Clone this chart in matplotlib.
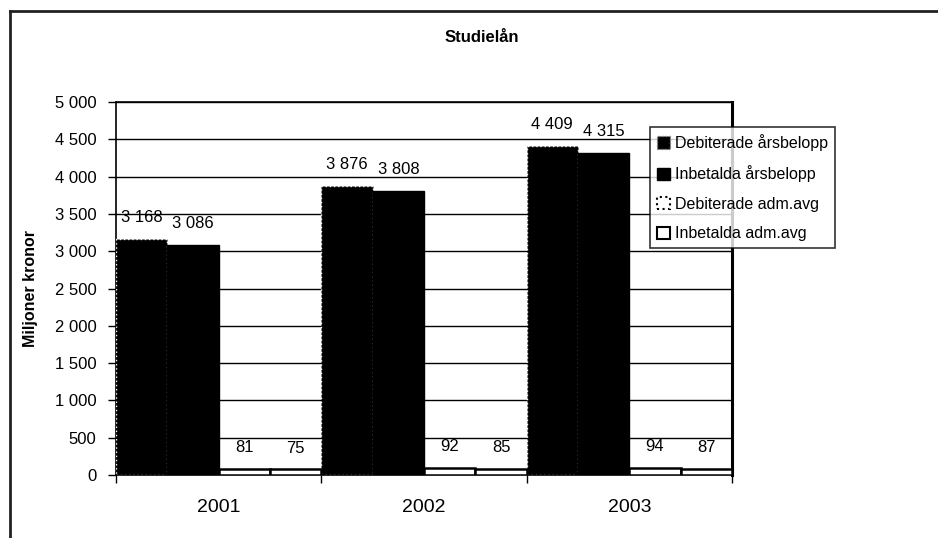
import numpy as np
import matplotlib
matplotlib.use("Agg")
import matplotlib.pyplot as plt
from matplotlib.lines import Line2D
from matplotlib.patches import Patch

plt.rcParams['font.family'] = ['Liberation Sans', 'DejaVu Sans']

# Data (miljoner kronor)
years = ["2001", "2002", "2003"]
debiterade_arsbelopp = [3168, 3876, 4409]
inbetalda_arsbelopp = [3086, 3808, 4315]
debiterade_admavg = [81, 92, 94]
inbetalda_admavg = [75, 85, 87]
series_names = ["Debiterade årsbelopp", "Inbetalda årsbelopp",
                "Debiterade adm.avg", "Inbetalda adm.avg"]
y_ticks = [0, 500, 1000, 1500, 2000, 2500, 3000, 3500, 4000, 4500, 5000]


def fmt(v):
    # Swedish style thousands separator
    return f"{v:,.0f}".replace(",", " ")


fig = plt.figure(figsize=(9.38, 5.38), dpi=100)
ax = fig.add_axes([0.1237, 0.1171, 0.6567, 0.6933])

x = np.arange(len(years))
width = 0.25
series = [debiterade_arsbelopp, inbetalda_arsbelopp, debiterade_admavg, inbetalda_admavg]
styles = [
    dict(facecolor="black", edgecolor="white", linestyle=(0, (1, 2)), linewidth=1.0),
    dict(facecolor="black", edgecolor="black", linewidth=1.0),
    dict(facecolor="white", edgecolor="black", linewidth=1.8),
    dict(facecolor="white", edgecolor="black", linewidth=1.8),
]

for i, (vals, st) in enumerate(zip(series, styles)):
    pos = x - 0.5 + width * i + width / 2
    ax.bar(pos, vals, width, zorder=3, **st)
    for p, v in zip(pos, vals):
        ax.annotate(fmt(v), (p, v), xytext=(0, 10), textcoords="offset points",
                    ha="center", va="bottom", fontsize=12, zorder=4)

# Axes setup
ax.set_xlim(-0.5, len(years) - 0.5)
ax.set_ylim(0, 5000)
ax.set_yticks(y_ticks)
ax.set_yticklabels([fmt(t) for t in y_ticks], fontsize=12)
ax.yaxis.grid(True, color="black", linewidth=1.0, zorder=0)
ax.set_axisbelow(True)

ax.set_xticks(x)
ax.set_xticklabels(years, fontsize=14)
ax.tick_params(axis="x", which="major", length=0, pad=17)
ax.set_xticks(np.arange(-0.5, len(years)), minor=True)
ax.tick_params(axis="x", which="minor", length=6, width=1, direction="out")
ax.tick_params(axis="y", length=6, width=1, direction="out", pad=8)

for side in ["left", "bottom", "top"]:
    ax.spines[side].set_linewidth(1.2)
ax.spines["right"].set_linewidth(2.2)

ax.set_ylabel("Miljoner kronor", fontsize=11.5, fontweight="bold", labelpad=12)
fig.text(482 / 938, 1 - 38 / 538, "Studielån", ha="center", va="center",
         fontsize=12, fontweight="bold")

# Legend
handles = [
    Patch(facecolor="black", edgecolor="#888888", linestyle=":", linewidth=1),
    Patch(facecolor="black", edgecolor="black"),
    Patch(facecolor="white", edgecolor="black", linestyle=":", linewidth=1.5),
    Patch(facecolor="white", edgecolor="black", linewidth=1.5),
]
leg = fig.legend(handles, series_names, loc="upper left",
                 bbox_to_anchor=(650 / 938, 1 - 127 / 538), fontsize=11.5,
                 frameon=True, fancybox=False, edgecolor="black",
                 handlelength=0.8, handleheight=0.8, handletextpad=0.3,
                 labelspacing=0.9, borderpad=0.45, borderaxespad=0)
leg.get_frame().set_linewidth(1.2)

# Outer chart frame (only left and top visible)
fig.add_artist(Line2D([10 / 938, 10 / 938], [0, 1 - 11 / 538], color="#222222",
                      linewidth=2, transform=fig.transFigure))
fig.add_artist(Line2D([10 / 938, 1], [1 - 11 / 538, 1 - 11 / 538], color="#222222",
                      linewidth=2, transform=fig.transFigure))

fig.savefig("out.png", dpi=100)
